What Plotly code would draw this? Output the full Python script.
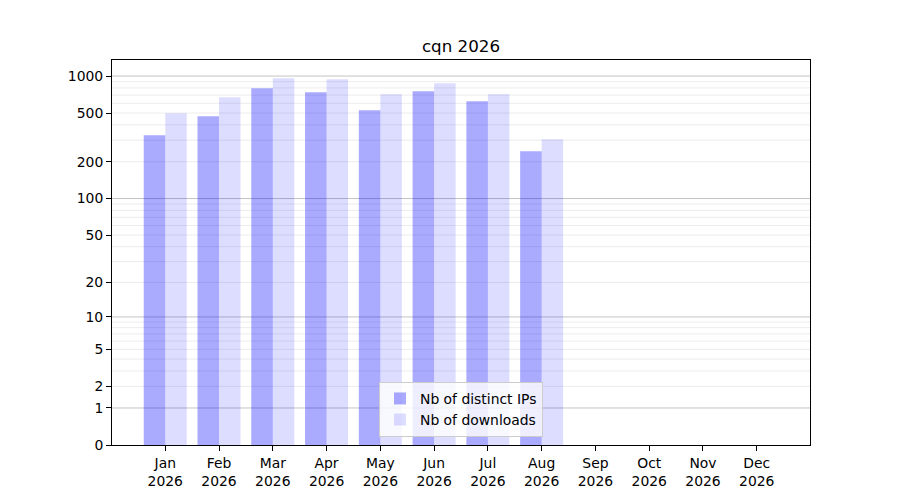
import math
import plotly.graph_objects as go

# monthly stats for cqn (Sep-Dec not reached yet)
months = ["Jan", "Feb", "Mar", "Apr", "May", "Jun",
          "Jul", "Aug", "Sep", "Oct", "Nov", "Dec"]
year = "2026"
distinct_ips = [329, 470, 794, 738, 527, 752, 623, 244, 0, 0, 0, 0]
downloads = [497, 671, 958, 941, 711, 873, 711, 306, 0, 0, 0, 0]

# y is a log(x+1) scale: axis values are count + 1
label_ticks = [0, 1, 2, 5, 10, 20, 50, 100, 200, 500, 1000]
decade_ticks = [1, 10, 100, 1000]
minor_ticks = [m * d for d in [1, 10, 100] for m in range(2, 10)]

font = "DejaVu Sans"
fs = 13.9
xlabels = [f"{m}<br>{year}" for m in months]

fig = go.Figure()

fig.add_trace(go.Bar(
    x=xlabels, y=distinct_ips, base=1,
    name="Nb of distinct IPs",
    marker=dict(color="rgba(0,0,255,0.333)", line_width=0),
))
fig.add_trace(go.Bar(
    x=xlabels, y=downloads, base=1,
    name="Nb of downloads",
    marker=dict(color="rgba(0,0,255,0.133)", line_width=0),
))

top = 1.05 * math.log10(max(downloads) + 1)

# grid lines (below the semi-transparent bars), placed in axis-domain units
for t, col in [(t, "#ececec") for t in minor_ticks] + [(t, "#c4c4c4") for t in decade_ticks]:
    f = math.log10(t + 1) / top
    if f <= 1:
        fig.add_shape(type="line", xref="x domain", yref="y domain",
                      x0=0, x1=1, y0=f, y1=f, layer="below",
                      line=dict(color=col, width=1))

fig.update_layout(
    width=900, height=500,
    margin=dict(l=104, r=98, t=52, b=63),
    paper_bgcolor="white", plot_bgcolor="white",
    font=dict(family=font, size=fs, color="black"),
    title=dict(text="cqn " + year, x=0.5, xref="paper", xanchor="center",
               y=1 - 38 / 500, yref="container", yanchor="middle",
               font=dict(size=16.7)),
    barmode="group", bargap=0.2, bargroupgap=0,
    showlegend=True,
    legend=dict(x=0.5, xanchor="center", y=0.021, yanchor="bottom",
                bgcolor="rgba(255,255,255,0.8)", bordercolor="#cccccc",
                borderwidth=1, font=dict(size=fs), tracegroupgap=0),
    xaxis=dict(
        type="category", range=[-0.99, 11.99],
        showline=True, mirror=True, linecolor="black", linewidth=1,
        ticks="outside", ticklen=5, tickcolor="black",
        showgrid=False,
    ),
    yaxis=dict(
        type="log", range=[0, top],
        tickvals=[t + 1 for t in label_ticks],
        ticktext=[str(t) for t in label_ticks],
        showline=True, mirror=True, linecolor="black", linewidth=1,
        ticks="outside", ticklen=5, tickcolor="black",
        showgrid=False, zeroline=False,
    ),
)

fig.write_html("out.html")
